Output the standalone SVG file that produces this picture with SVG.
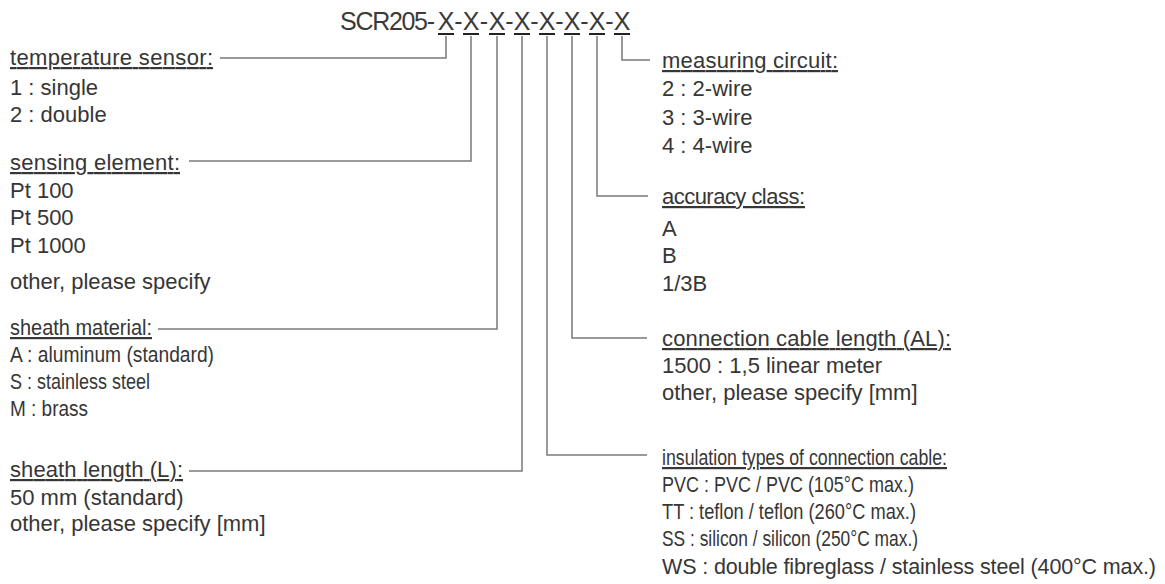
<svg xmlns="http://www.w3.org/2000/svg" width="1165" height="584" viewBox="0 0 1165 584">
<style>
text{font-family:"Liberation Sans",Arial,sans-serif;font-size:22px;fill:#363636}
.h{text-decoration:underline}
.t{font-size:25px;fill:#3a3a3a}
.c{fill:none;stroke:#7a7a7a;stroke-width:1.5}
.u{stroke:#222;stroke-width:2}
</style>
<rect width="1165" height="584" fill="#fff"/>
<g id="title">
<text class="t" x="340" y="30" textLength="95" lengthAdjust="spacing">SCR205-</text>
<text class="t" text-anchor="middle" y="30"><tspan x="446">X</tspan><tspan x="458.5">-</tspan><tspan x="471">X</tspan><tspan x="484">-</tspan><tspan x="497">X</tspan><tspan x="509.5">-</tspan><tspan x="522">X</tspan><tspan x="534.5">-</tspan><tspan x="547">X</tspan><tspan x="559.5">-</tspan><tspan x="572">X</tspan><tspan x="584.5">-</tspan><tspan x="597">X</tspan><tspan x="609.5">-</tspan><tspan x="622">X</tspan></text>
<path class="u" d="M438,34H454M463,34H479M489,34H505M514,34H530M539,34H555M564,34H580M589,34H605M614,34H630"/>
</g>
<g id="connectors">
<path class="c" d="M220,58H446V36"/>
<path class="c" d="M189,161H471V36"/>
<path class="c" d="M158,329H497V36"/>
<path class="c" d="M189,471H522V36"/>
<path class="c" d="M547,36V455H647"/>
<path class="c" d="M572,36V338H647"/>
<path class="c" d="M597,36V196H648"/>
<path class="c" d="M622,36V60H650"/>
</g>
<g id="temperature-sensor">
<text class="h" x="10" y="65" textLength="203" lengthAdjust="spacing">temperature sensor:</text>
<text x="10" y="95">1 : single</text>
<text x="10" y="122">2 : double</text>
</g>
<g id="sensing-element">
<text class="h" x="10" y="170" textLength="170" lengthAdjust="spacing">sensing element:</text>
<text x="10" y="198">Pt 100</text>
<text x="10" y="225">Pt 500</text>
<text x="10" y="253">Pt 1000</text>
<text x="10" y="289">other, please specify</text>
</g>
<g id="sheath-material">
<text class="h" x="10" y="335" textLength="142" lengthAdjust="spacingAndGlyphs">sheath material:</text>
<text x="10" y="362" textLength="204" lengthAdjust="spacingAndGlyphs">A : aluminum (standard)</text>
<text x="10" y="389" textLength="140" lengthAdjust="spacingAndGlyphs">S : stainless steel</text>
<text x="10" y="416" textLength="78" lengthAdjust="spacingAndGlyphs">M : brass</text>
</g>
<g id="sheath-length">
<text class="h" x="10" y="477" textLength="173" lengthAdjust="spacing">sheath length (L):</text>
<text x="10" y="505">50 mm (standard)</text>
<text x="10" y="531">other, please specify [mm]</text>
</g>
<g id="measuring-circuit">
<text class="h" x="662" y="68" textLength="176" lengthAdjust="spacing">measuring circuit:</text>
<text x="662" y="96">2 : 2-wire</text>
<text x="662" y="125">3 : 3-wire</text>
<text x="662" y="153">4 : 4-wire</text>
</g>
<g id="accuracy-class">
<text class="h" x="662" y="204" textLength="143" lengthAdjust="spacing">accuracy class:</text>
<text x="662" y="236">A</text>
<text x="662" y="263">B</text>
<text x="662" y="291">1/3B</text>
</g>
<g id="connection-cable-length">
<text class="h" x="662" y="346" textLength="289" lengthAdjust="spacing">connection cable length (AL):</text>
<text x="662" y="373">1500 : 1,5 linear meter</text>
<text x="662" y="400">other, please specify [mm]</text>
</g>
<g id="insulation-types">
<text class="h" x="662" y="465" textLength="285" lengthAdjust="spacingAndGlyphs">insulation types of connection cable:</text>
<text x="662" y="492" textLength="252" lengthAdjust="spacingAndGlyphs">PVC : PVC / PVC (105°C max.)</text>
<text x="662" y="519" textLength="254" lengthAdjust="spacingAndGlyphs">TT : teflon / teflon (260°C max.)</text>
<text x="662" y="546" textLength="256" lengthAdjust="spacingAndGlyphs">SS : silicon / silicon (250°C max.)</text>
<text x="662" y="574" style="font-size:21.5px" textLength="494" lengthAdjust="spacing">WS : double fibreglass / stainless steel (400°C max.)</text>
</g>
</svg>
